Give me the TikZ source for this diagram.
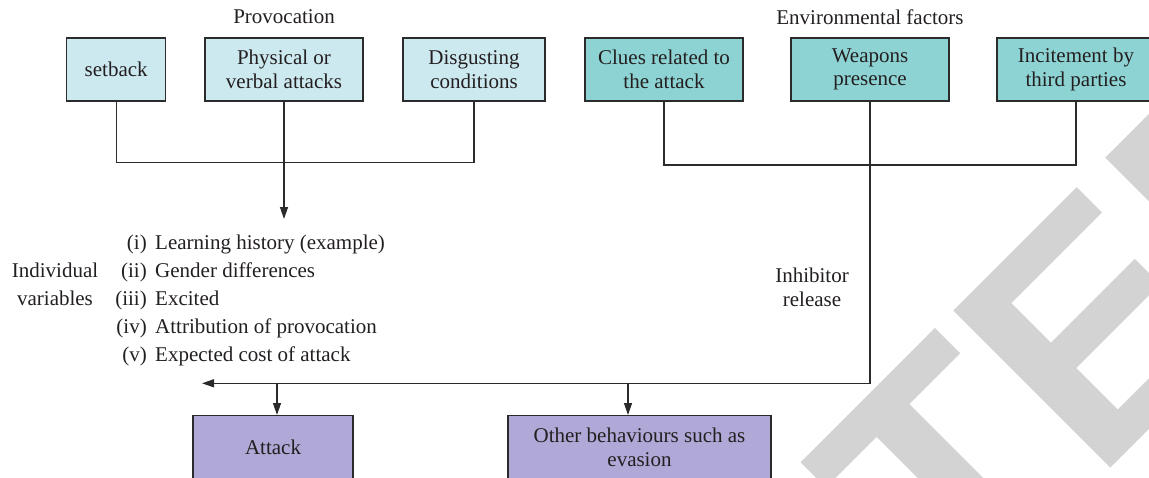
\documentclass[tikz,border=0pt]{standalone}
\usepackage{fontspec}
\setmainfont{Liberation Serif}
\newfontfamily\wmfont[Kerning=Off]{Liberation Sans}
\usetikzlibrary{arrows.meta}
\definecolor{provc}{HTML}{CDE9F0}
\definecolor{envc}{HTML}{8ED3D3}
\definecolor{outc}{HTML}{B0A8D6}
\definecolor{linec}{HTML}{2B2B2B}
\definecolor{txtc}{HTML}{231F20}
\definecolor{wmc}{HTML}{D3D3D3}
\tikzset{
  box/.style={draw=linec, line width=1.3pt, inner sep=0pt, minimum height=63pt,
    align=center, text=txtc, font=\fontsize{21}{23.5}\selectfont},
  provbox/.style={box, fill=provc},
  envbox/.style={box, fill=envc},
  outbox/.style={box, fill=outc, minimum height=63.5pt, anchor=north, font=\fontsize{21}{24}\selectfont},
  conn/.style={draw=linec, line width=1.3pt},
  arr/.style={conn, -{Triangle[length=12pt,width=8pt]}},
  lbl/.style={text=txtc, inner sep=0pt, font=\fontsize{21}{24.5}\selectfont},
  wm/.style={text=wmc, inner sep=0pt, rotate=45, font=\wmfont\bfseries\fontsize{323}{323}\selectfont},
}
\begin{document}
\begin{tikzpicture}[x=1pt,y=-1pt]
\useasboundingbox (0,0) rectangle (1149,477);
\clip (0,0) rectangle (1149,477);
% watermark
\node[wm, anchor=base west] (wmb) at (955.4,623) {TED};
\node[wm, anchor=base east] (wma) at (955.4,623) {RETRAC};
% headings
\node[lbl] (prov) at (284,17) {Provocation};
\node[lbl] (env) at (870,17) {Environmental factors};
% top boxes
\node[provbox, minimum width=99pt] (setback) at (116.2,69.5) {setback};
\node[provbox, minimum width=158pt] (phys) at (284,69.5) {Physical or\\verbal attacks};
\node[provbox, minimum width=142pt] (disg) at (474,69.5) {Disgusting\\conditions};
\node[envbox, minimum width=158pt] (clues) at (664,69.5) {Clues related to\\the attack};
\node[envbox, minimum width=158pt] (weap) at (870,69.5) {Weapons\\presence};
\node[envbox, minimum width=158pt] (incit) at (1076,69.5) {Incitement by\\third parties};
% bottom boxes
\node[outbox, minimum width=160pt] (attack) at (273,415) {Attack};
\node[outbox, minimum width=263pt] (other) at (639.5,415) {Other behaviours such as\\evasion};
% individual variables
\node[lbl, anchor=base] (ind1) at (55,277) {Individual};
\node[lbl, anchor=base] (ind2) at (55,305) {variables};
\node[lbl, anchor=base east] (n1) at (147,249) {(i)};
\node[lbl, anchor=base west] (t1) at (155,249) {Learning history (example)};
\node[lbl, anchor=base east] (n2) at (147,277) {(ii)};
\node[lbl, anchor=base west] (t2) at (155,277) {Gender differences};
\node[lbl, anchor=base east] (n3) at (147,305) {(iii)};
\node[lbl, anchor=base west] (t3) at (155,305) {Excited};
\node[lbl, anchor=base east] (n4) at (147,333) {(iv)};
\node[lbl, anchor=base west] (t4) at (155,333) {Attribution of provocation};
\node[lbl, anchor=base east] (n5) at (147,361) {(v)};
\node[lbl, anchor=base west] (t5) at (155,361) {Expected cost of attack};
% inhibitor
\node[lbl, align=center] (inhib) at (812,287.5) {Inhibitor\\release};
% connectors
\coordinate (pj) at (284,162.3);
\coordinate (indiv) at (284,219);
\draw[conn] (setback.south) |- (pj) -| (disg.south);
\draw[arr] (phys.south) -- (indiv);
\coordinate (ej) at (870,165);
\draw[conn] (clues.south) |- (ej) -| (incit.south);
\coordinate (wjoin) at (870,383.3);
\coordinate (wend) at (202,383.3);
\draw[arr] (weap.south) -- (wjoin) -- (wend);
\coordinate (ta) at (277,383.3);
\coordinate (tb) at (628,383.3);
\draw[arr] (ta) -- (ta |- attack.north);
\draw[arr] (tb) -- (tb |- other.north);
\end{tikzpicture}
\end{document}
